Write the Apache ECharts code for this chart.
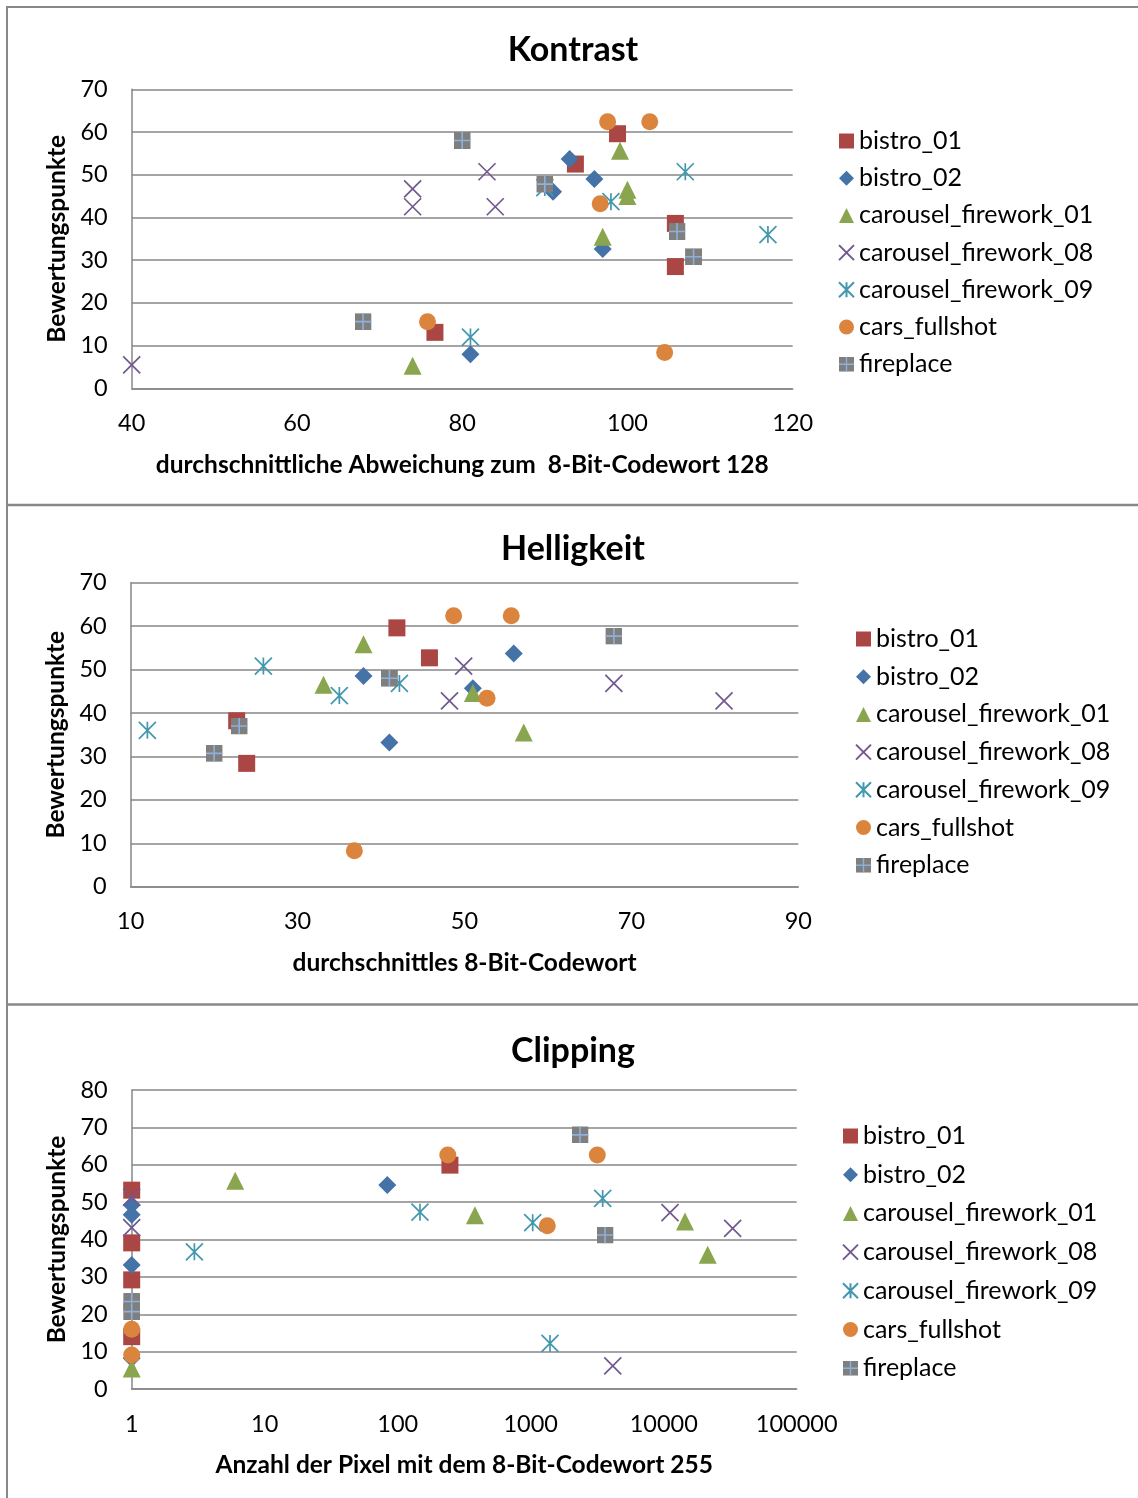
<!DOCTYPE html>
<html><head><meta charset="utf-8">
<script src="https://cdn.jsdelivr.net/npm/echarts@6/dist/echarts.min.js"></script>
<style>html,body{margin:0;padding:0;background:#fff}#c{width:1138px;height:1498px}</style>
</head><body><div id="c"></div><script>
const seriesNames = ['bistro_01','bistro_02','carousel_firework_01','carousel_firework_08','carousel_firework_09','cars_fullshot','fireplace'];
const chartTitles = ['Kontrast','Helligkeit','Clipping'];
const xAxisTitles = ['durchschnittliche Abweichung zum  8-Bit-Codewort 128','durchschnittles 8-Bit-Codewort','Anzahl der Pixel mit dem 8-Bit-Codewort 255'];
const yAxisTitle = 'Bewertungspunkte';

// Kontrast: [durchschnittliche Abweichung, Bewertungspunkte]
const kontrast_bistro_01 = [[76.7,13.1],[93.7,52.5],[98.8,59.6],[105.8,38.6],[105.8,28.5]];
const kontrast_bistro_02 = [[81,8],[93,53.7],[91,46],[96,49],[97,32.6]];
const kontrast_carousel_01 = [[74,5.3],[99.1,55.6],[100,46.5],[100,45],[97,35.5]];
const kontrast_carousel_08 = [[40,5.5],[74,46.7],[74,42.5],[83,50.7],[84,42.5]];
const kontrast_carousel_09 = [[81,12],[90,47],[98,43.7],[107,50.7],[117,36]];
const kontrast_cars = [[75.8,15.6],[97.6,62.4],[102.7,62.4],[96.7,43.2],[104.5,8.4]];
const kontrast_fireplace = [[68,15.6],[80,58],[90,47.8],[106,36.7],[108,30.8]];

// Helligkeit: [durchschnittliches Codewort, Bewertungspunkte]
const hell_bistro_01 = [[22.7,38.2],[23.9,28.4],[41.9,59.6],[45.8,52.7]];
const hell_bistro_02 = [[37.9,48.5],[41,33.2],[51,45.7],[55.9,53.7]];
const hell_carousel_01 = [[33.1,46.5],[37.9,55.8],[51,44.6],[57.1,35.5]];
const hell_carousel_08 = [[49.9,50.8],[48.2,42.8],[67.9,46.8],[81.1,42.8]];
const hell_carousel_09 = [[12,36],[25.9,50.8],[35,44],[42.2,46.8]];
const hell_cars = [[36.8,8.3],[48.7,62.4],[55.6,62.4],[52.7,43.4]];
const hell_fireplace = [[20,30.7],[23,37],[41,48],[67.9,57.7]];

// Clipping: [Anzahl Pixel mit Codewort 255, Bewertungspunkte]
const clip_bistro_01 = [[1,53.2],[1,39.1],[1,29.2],[1,14],[247,59.9]];
const clip_bistro_02 = [[1,49.2],[1,46.6],[1,33.2],[1,8.2],[83.5,54.6]];
const clip_carousel_01 = [[1,5.5],[6,55.7],[381,46.5],[14460,44.8],[21420,35.9]];
const clip_carousel_08 = [[1,51.3],[1,43.2],[11150,47.2],[33000,43],[4138,6.2]];
const clip_carousel_09 = [[2.96,36.7],[147,47.3],[1035,44.5],[3477,51],[1397,12.2]];
const clip_cars = [[1,16],[1,9.1],[238,62.6],[3167,62.6],[1333,43.7]];
const clip_fireplace = [[1,23.4],[1,20.7],[2349,68],[3622,41.2]];

const chartData = [
  [kontrast_bistro_01,kontrast_bistro_02,kontrast_carousel_01,kontrast_carousel_08,kontrast_carousel_09,kontrast_cars,kontrast_fireplace],
  [hell_bistro_01,hell_bistro_02,hell_carousel_01,hell_carousel_08,hell_carousel_09,hell_cars,hell_fireplace],
  [clip_bistro_01,clip_bistro_02,clip_carousel_01,clip_carousel_08,clip_carousel_09,clip_cars,clip_fireplace]
];

const FONT = 'Lato, "Open Sans", sans-serif';
const GRID_COLOR = '#878787';
const fireSvg = "<svg xmlns='http://www.w3.org/2000/svg' width='32' height='32'><rect x='0' y='0' width='32' height='32' fill='#7F7F7F'/><path d='M16 0V32M0 16H32' stroke='#8FB0DA' stroke-width='3'/></svg>";
const styles = [
  {symbol:'rect', size:17, itemStyle:{color:'#AA4643', opacity:1}},
  {symbol:'diamond', size:18, itemStyle:{color:'#4572A7', opacity:1}},
  {symbol:'triangle', size:18, itemStyle:{color:'#89A54E', opacity:1}},
  {symbol:'path://M0,0L10,10M10,0L0,10', size:17, itemStyle:{color:'rgba(0,0,0,0)', borderColor:'#71588F', borderWidth:1.7, opacity:1}},
  {symbol:'path://M0,0L10,10M10,0L0,10M5,0L5,10', size:17, itemStyle:{color:'rgba(0,0,0,0)', borderColor:'#4198AF', borderWidth:1.7, opacity:1}},
  {symbol:'circle', size:17, itemStyle:{color:'#DB843D', opacity:1}},
  {symbol:'image://data:image/svg+xml;charset=utf-8,' + encodeURIComponent(fireSvg), size:17, itemStyle:{opacity:1}}
];

const grids = [
  {left:131.7, top:89.3, width:661, height:299},
  {left:130.7, top:582.7, width:667.6, height:304},
  {left:131.7, top:1090, width:665, height:299}
];
const titleTops = [28, 527, 1029];
const legendPos = [{left:838, top:127, pitch:37.2},{left:855, top:625, pitch:37.7},{left:842, top:1122, pitch:38.7}];
const xRanges = [{min:40,max:120,interval:20},{min:10,max:90,interval:20},null];
const yMax = [70,70,80];

const option = {
  animation:false,
  backgroundColor:'#fff',
  textStyle:{fontFamily:FONT},
  title: chartTitles.map((t,k)=>({text:t, left:568, top:titleTops[k], textAlign:'center',
    textStyle:{fontFamily:FONT, fontWeight:'bold', fontSize:34, color:'#000'}})),
  legend: legendPos.map((p,k)=>({
    data: seriesNames, orient:'vertical', left:p.left, top:p.top, padding:0,
    itemWidth:15, itemHeight:15, itemGap:p.pitch-28,
    textStyle:{fontFamily:FONT, fontSize:25, color:'#000', lineHeight:28},
    selectedMode:false
  })),
  grid: grids.map(g=>Object.assign({containLabel:false}, g)),
  xAxis: grids.map((g,k)=>{
    const base = {
      gridIndex:k, name:xAxisTitles[k], nameLocation:'middle', nameGap:64,
      nameTextStyle:{fontFamily:FONT, fontWeight:'bold', fontSize:24.5, color:'#000'},
      axisLine:{show:true, onZero:false, lineStyle:{color:GRID_COLOR, width:1.5}},
      axisTick:{show:false},
      splitLine:{show:false},
      axisLabel:{fontFamily:FONT, fontSize:23.5, color:'#000', margin:23}
    };
    if (k===2) {
      return Object.assign(base, {type:'log', logBase:10, min:1, max:100000,
        axisLabel:Object.assign(base.axisLabel, {formatter:v=>String(Math.round(v))})});
    }
    return Object.assign(base, {type:'value'}, xRanges[k]);
  }),
  yAxis: grids.map((g,k)=>({
    gridIndex:k, type:'value', min:0, max:yMax[k], interval:10,
    name:yAxisTitle, nameLocation:'middle', nameGap:62, nameRotate:90,
    nameTextStyle:{fontFamily:FONT, fontWeight:'bold', fontSize:24.5, color:'#000'},
    axisLine:{show:true, lineStyle:{color:GRID_COLOR, width:1.5}},
    axisTick:{show:false},
    splitLine:{show:true, lineStyle:{color:GRID_COLOR, width:1.5}},
    axisLabel:{fontFamily:FONT, fontSize:23.5, color:'#000', margin:24}
  })),
  series: [],
  graphic: [
    {type:'line', shape:{x1:7, y1:7, x2:1138, y2:7}, style:{stroke:'#888', lineWidth:2}},
    {type:'line', shape:{x1:7, y1:6, x2:7, y2:1498}, style:{stroke:'#888', lineWidth:2}},
    {type:'line', shape:{x1:7, y1:505, x2:1138, y2:505}, style:{stroke:'#888', lineWidth:2.5}},
    {type:'line', shape:{x1:7, y1:1004.5, x2:1138, y2:1004.5}, style:{stroke:'#888', lineWidth:2.5}}
  ]
};

chartData.forEach((sets,k)=>{
  sets.forEach((data,i)=>{
    const s = styles[i];
    option.series.push({
      type:'scatter', name:seriesNames[i], xAxisIndex:k, yAxisIndex:k,
      data:data, symbol:s.symbol, symbolSize:s.size, itemStyle:s.itemStyle,
      emphasis:{disabled:true}, z:2+i
    });
  });
});

const chart = echarts.init(document.getElementById('c'), null, {renderer:'canvas'});
chart.setOption(option);
</script></body></html>
